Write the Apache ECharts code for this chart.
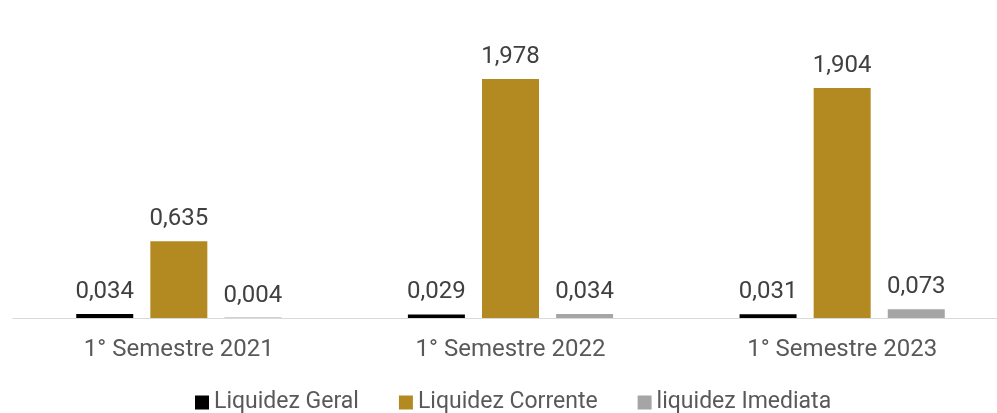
<!DOCTYPE html>
<html><head><meta charset="utf-8">
<script src="https://cdn.jsdelivr.net/npm/echarts@6/dist/echarts.min.js"></script>
<style>html,body{margin:0;padding:0;background:#fff;overflow:hidden}#c{width:1010px;height:413px}</style>
</head><body><div id="c"></div>
<script>
const categories = ['1° Semestre 2021', '1° Semestre 2022', '1° Semestre 2023'];
const liquidezGeral = [0.034, 0.029, 0.031];
const liquidezCorrente = [0.635, 1.978, 1.904];
const liquidezImediata = [0.004, 0.034, 0.073];
const seriesNames = ['Liquidez Geral', 'Liquidez Corrente', 'liquidez Imediata'];

const fmt = v => v.value.toFixed(3).replace('.', ',');
const lbl = {show: true, position: 'top', distance: 10, color: '#404040', fontSize: 24, fontFamily: 'Roboto', formatter: fmt};
const chart = echarts.init(document.getElementById('c'), null, {renderer: 'canvas'});
chart.setOption({
  animation: false,
  textStyle: {fontFamily: 'Roboto'},
  grid: {left: 13, width: 995, top: 16, height: 302},
  legend: {
    left: 190, top: 386, itemWidth: 14, itemHeight: 14, itemGap: 40, icon: 'rect',
    textStyle: {fontSize: 23, color: '#595959', fontFamily: 'Roboto'},
    data: seriesNames
  },
  xAxis: {
    type: 'category', data: categories,
    axisLine: {lineStyle: {color: '#d9d9d9', width: 1}},
    axisTick: {show: false},
    axisLabel: {fontSize: 24, color: '#595959', margin: 20, fontFamily: 'Roboto'}
  },
  yAxis: {type: 'value', min: 0, max: 2.5, show: false, splitLine: {show: false}},
  series: [
    {name: seriesNames[0], type: 'bar', data: liquidezGeral, barWidth: 57, barGap: '30%', itemStyle: {color: '#000000'}, label: lbl},
    {name: seriesNames[1], type: 'bar', data: liquidezCorrente, barWidth: 57, barGap: '30%', itemStyle: {color: '#b38a22'}, label: lbl},
    {name: seriesNames[2], type: 'bar', data: liquidezImediata, barWidth: 57, barGap: '30%', itemStyle: {color: '#a5a5a5'}, label: lbl}
  ]
});
</script></body></html>
